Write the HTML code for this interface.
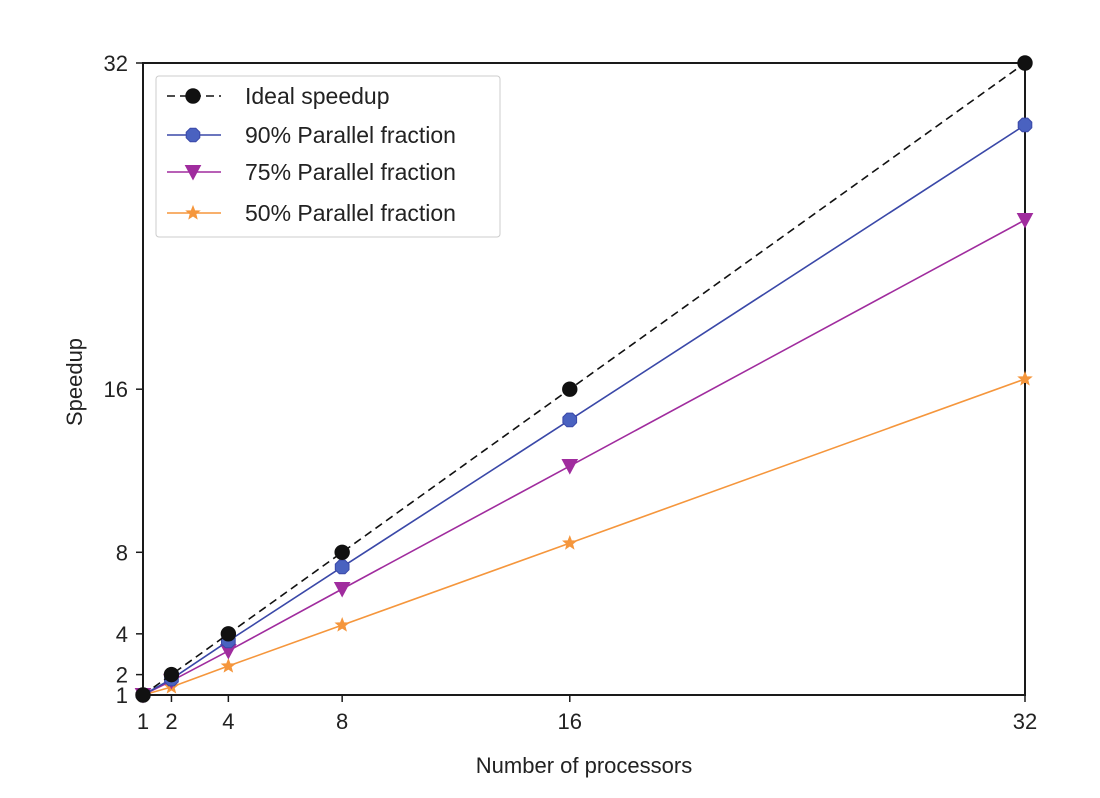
<!DOCTYPE html>
<html><head><meta charset="utf-8"><style>
body{margin:0;background:#fff}
svg text{font-family:"Liberation Sans",sans-serif;fill:#222}
</style></head><body>
<svg id="chart" width="1100" height="793" viewBox="0 0 1100 793" xmlns="http://www.w3.org/2000/svg">
<rect width="1100" height="793" fill="#fff"/>
<g id="plot"></g>
</svg>
<script>
const processors=[1,2,4,8,16,32];
const ideal=[1,2,4,8,16,32];
const par90=[1,1.78,3.65,7.28,14.49,28.96];
const par75=[1,1.69,3.16,6.2,12.23,24.3];
const par50=[1,1.39,2.42,4.43,8.45,16.5];
const xTicks=[1,2,4,8,16,32];
const yTicks=[1,2,4,8,16,32];
const NS="http://www.w3.org/2000/svg";
const g=document.getElementById('plot');
const X0=143,X1=1025,Y0=695,Y1=63;
const sx=v=>X0+(v-1)/31*(X1-X0);
const sy=v=>Y0-(v-1)/31*(Y0-Y1);
function mk(t,a,p){const e=document.createElementNS(NS,t);for(const k in a)e.setAttribute(k,a[k]);(p||g).appendChild(e);return e;}
function marker(type,x,y,fill,stroke,p){
 if(type==='circle')return mk('circle',{cx:x,cy:y,r:7.2,fill:fill,stroke:stroke,'stroke-width':1},p);
 if(type==='oct'){let pts=[];for(let i=0;i<8;i++){const a=Math.PI/8+i*Math.PI/4;pts.push((x+7.4*Math.cos(a)).toFixed(1)+','+(y+7.4*Math.sin(a)).toFixed(1));}return mk('polygon',{points:pts.join(' '),fill:fill,stroke:stroke,'stroke-width':1},p);}
 if(type==='tri')return mk('polygon',{points:`${x-7.5},${y-6.5} ${x+7.5},${y-6.5} ${x},${y+7.5}`,fill:fill,stroke:stroke,'stroke-width':1},p);
 if(type==='star'){let pts=[];for(let i=0;i<10;i++){const a=-Math.PI/2+i*Math.PI/5;const r=i%2?3:7;pts.push((x+r*Math.cos(a)).toFixed(1)+','+(y+r*Math.sin(a)).toFixed(1));}return mk('polygon',{points:pts.join(' '),fill:fill,stroke:stroke,'stroke-width':0.8},p);}
}
const frame=mk('rect',{x:X0,y:Y1,width:X1-X0,height:Y0-Y1,fill:'none',stroke:'#1a1a1a','stroke-width':2});


xTicks.forEach(v=>{
 const t=mk('line',{x1:sx(v),x2:sx(v),y1:Y0,y2:Y0+7,stroke:'#1a1a1a','stroke-width':1.5});
 
 
 const l=mk('text',{x:sx(v),y:Y0+34,'text-anchor':'middle','font-size':22});l.textContent=v;
 
 
});
yTicks.forEach(v=>{
 const t=mk('line',{x1:X0-7,x2:X0,y1:sy(v),y2:sy(v),stroke:'#1a1a1a','stroke-width':1.5});
 
 
 const l=mk('text',{x:X0-15,y:sy(v)+8,'text-anchor':'end','font-size':22});l.textContent=v;
 
 
});
const xt=mk('text',{x:584,y:773,'text-anchor':'middle','font-size':22});xt.textContent='Number of processors';


const yt=mk('text',{x:82,y:382,'text-anchor':'middle','font-size':22,transform:'rotate(-90 82 382)'});yt.textContent='Speedup';


const series=[
 {name:'Ideal speedup',data:ideal,color:'#111',fill:'#111',m:'circle',dash:'8,5',key:'ideal'},
 {name:'90% Parallel fraction',data:par90,color:'#3a48a8',fill:'#4a62c0',m:'oct',dash:null,key:'par90'},
 {name:'75% Parallel fraction',data:par75,color:'#a02c9e',fill:'#a02c9e',m:'tri',dash:null,key:'par75'},
 {name:'50% Parallel fraction',data:par50,color:'#f5963c',fill:'#f5963c',m:'star',dash:null,key:'par50'}
];
series.slice().reverse().forEach(s=>{
 const sg=mk('g',{});
 
 
 const pts=processors.map((p,i)=>sx(p)+','+sy(s.data[i])).join(' ');
 const a={points:pts,fill:'none',stroke:s.color,'stroke-width':1.6};if(s.dash)a['stroke-dasharray']=s.dash;
 const ln=mk('polyline',a,sg);
 
 
 processors.forEach((p,i)=>{
  const mm=marker(s.m,sx(p),sy(s.data[i]),s.fill,s.color,sg);
  
  
 });
});
const lg=mk('g',{});


mk('rect',{x:156,y:76,width:344,height:161,rx:3,fill:'#fff',stroke:'#ccc','stroke-width':1},lg);
const ly=[96,135,172,213];
series.forEach((s,i)=>{
 const e=mk('g',{},lg);
 
 
 const a={x1:167,x2:221,y1:ly[i],y2:ly[i],stroke:s.color,'stroke-width':1.6};if(s.dash)a['stroke-dasharray']=s.dash;
 mk('line',a,e);
 marker(s.m,193,ly[i],s.fill,s.color,e);
 const t=mk('text',{x:245,y:ly[i]+8,'font-size':23},e);t.textContent=s.name;
});
</script>
</body></html>
